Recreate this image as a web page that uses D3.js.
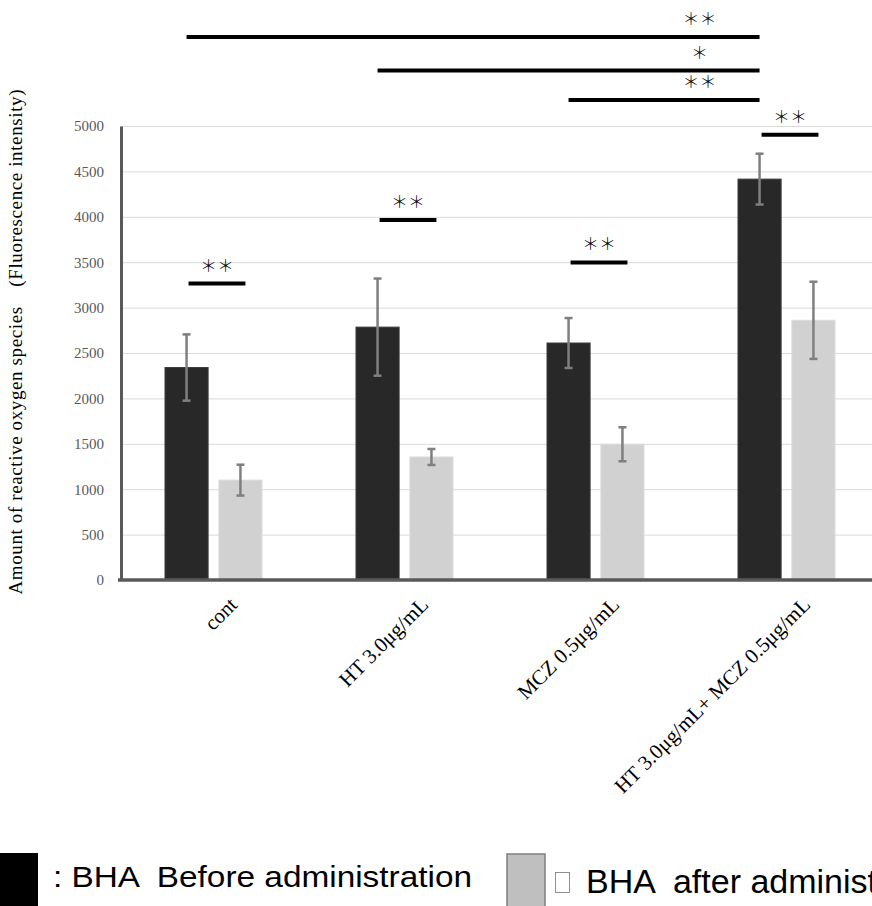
<!DOCTYPE html>
<meta charset="utf-8">
<html>
<head>
<script src="https://cdn.jsdelivr.net/npm/d3@7"></script>
<style>
  body { margin: 0; background: #fff; }
  svg { display: block; }
</style>
</head>
<body>
<div id="chart"></div>
<script>
// data
var categories = ["cont", "HT 3.0\u03bcg/mL", "MCZ 0.5\u03bcg/mL", "HT 3.0\u03bcg/mL+ MCZ 0.5\u03bcg/mL"];
var series = ["before", "after"];
var beforeValues = [2340, 2785, 2610, 4415];
var beforeErrors = [365, 535, 275, 280];
var afterValues = [1100, 1355, 1495, 2860];
var afterErrors = [170, 88, 187, 425];
var yTicks = [0, 500, 1000, 1500, 2000, 2500, 3000, 3500, 4000, 4500, 5000];

// pairwise marks: [fromCategory, toCategory, level, label]
var groupSig = [
  [0, 3, 5980, "\uff0a\uff0a"],
  [1, 3, 5610, "\uff0a"],
  [2, 3, 5285, "\uff0a\uff0a"]
];
// before vs after inside a category: [category, level, label]
var pairSig = [
  [0, 3265, "\uff0a\uff0a"],
  [1, 3965, "\uff0a\uff0a"],
  [2, 3497, "\uff0a\uff0a"],
  [3, 4905, "\uff0a\uff0a"]
];

var width = 872, height = 906;
var serif = "'Liberation Serif', 'Times New Roman', serif";

var svg = d3.select("#chart").append("svg")
    .attr("width", width)
    .attr("height", height);

var x = d3.scaleBand()
    .domain(categories)
    .range([118, 882])
    .padding(0);

var xSub = d3.scaleBand()
    .domain(series)
    .range([0, 97])
    .paddingInner(0.2);

var y = d3.scaleLinear()
    .domain([0, 5000])
    .range([580, 126]);

function barX(i, s) {
    return x(categories[i]) + (x.bandwidth() - 97) / 2 + xSub(s);
}
function barCenter(i, s) {
    return barX(i, s) + xSub.bandwidth() / 2;
}

// grid lines
var grid = svg.append("g")
    .attr("transform", "translate(121,0)")
    .call(d3.axisLeft(y).tickValues(yTicks.slice(1)).tickSize(-(width - 121)).tickFormat(""));
grid.select(".domain").remove();
grid.selectAll("line").attr("stroke", "#d9d9d9").attr("stroke-width", 1);

// bars
var flat = [];
categories.forEach(function(c, i) {
    flat.push({i: i, s: "before", v: beforeValues[i], e: beforeErrors[i]});
    flat.push({i: i, s: "after", v: afterValues[i], e: afterErrors[i]});
});

svg.append("g").selectAll("rect")
    .data(flat).enter()
    .append("rect")
    .attr("x", function(d) { return barX(d.i, d.s); })
    .attr("y", function(d) { return y(d.v); })
    .attr("width", xSub.bandwidth())
    .attr("height", function(d) { return y(0) - y(d.v); })
    .attr("fill", function(d) { return d.s == "before" ? "#282828" : "#d0d1d0"; })
    .attr("stroke", function(d) { return d.s == "before" ? "#3a3a3a" : "#dcdcdc"; })
    .attr("stroke-width", 1);

// error bars
var err = svg.append("g").selectAll("g")
    .data(flat).enter()
    .append("g")
    .attr("stroke", "#7f7f7f")
    .attr("stroke-width", 2.5);
err.append("line")
    .attr("x1", function(d) { return barCenter(d.i, d.s); })
    .attr("x2", function(d) { return barCenter(d.i, d.s); })
    .attr("y1", function(d) { return y(d.v + d.e); })
    .attr("y2", function(d) { return y(d.v - d.e); });
err.selectAll(".cap")
    .data(function(d) { return [[d, d.v + d.e], [d, d.v - d.e]]; }).enter()
    .append("line")
    .attr("x1", function(p) { return barCenter(p[0].i, p[0].s) - 4; })
    .attr("x2", function(p) { return barCenter(p[0].i, p[0].s) + 4; })
    .attr("y1", function(p) { return y(p[1]); })
    .attr("y2", function(p) { return y(p[1]); });

// y axis
var yAxis = svg.append("g")
    .attr("transform", "translate(121,0)")
    .call(d3.axisLeft(y).tickValues(yTicks).tickFormat(d3.format("d"))
        .tickSize(0).tickSizeOuter(0).tickPadding(17));
yAxis.select(".domain").attr("stroke", "#595959").attr("stroke-width", 3);
yAxis.selectAll("text")
    .attr("font-family", serif)
    .attr("font-size", "15px")
    .attr("fill", "#595959");

// x axis
var xAxis = svg.append("g")
    .attr("transform", "translate(0,580)")
    .call(d3.axisBottom(x).tickSize(0).tickSizeOuter(0));
xAxis.select(".domain").attr("stroke", "#595959").attr("stroke-width", 3.5)
    .attr("d", "M118,0H" + width);
xAxis.selectAll("text")
    .attr("x", 0).attr("y", 0).attr("dy", 0)
    .attr("text-anchor", "end")
    .attr("transform", "translate(25,26) rotate(-45)")
    .attr("font-family", serif)
    .attr("font-size", "21px")
    .attr("fill", "#000");

// y axis title
svg.append("text")
    .attr("transform", "translate(22,342) rotate(-90)")
    .attr("text-anchor", "middle")
    .attr("font-family", serif)
    .attr("font-size", "19px")
    .attr("fill", "#000")
    .attr("textLength", 505)
    .attr("lengthAdjust", "spacing")
    .text("Amount of reactive oxygen species\u3000(Fluorescence intensity)");

// significance marks
var sig = svg.append("g");
function stars(xc, yc, label) {
    sig.append("text")
        .attr("x", xc)
        .attr("y", yc - 12)
        .attr("text-anchor", "middle")
        .attr("font-family", "'Noto Sans CJK JP', sans-serif")
        .attr("font-weight", 300)
        .attr("font-size", "17px")
        .attr("fill", "#000")
        .text(label);
}
groupSig.forEach(function(g) {
    var x1 = barCenter(g[0], "before"), x2 = barCenter(g[1], "before");
    sig.append("line")
        .attr("x1", x1).attr("x2", x2)
        .attr("y1", y(g[2])).attr("y2", y(g[2]))
        .attr("stroke", "#000").attr("stroke-width", 4);
    stars(x2 - 60, y(g[2]), g[3]);
});
pairSig.forEach(function(p) {
    var x1 = barCenter(p[0], "before") + 2, x2 = barCenter(p[0], "after") + 5;
    sig.append("line")
        .attr("x1", x1).attr("x2", x2)
        .attr("y1", y(p[1])).attr("y2", y(p[1]))
        .attr("stroke", "#000").attr("stroke-width", 4);
    stars((x1 + x2) / 2, y(p[1]), p[2]);
});

// legend
var legend = svg.append("g");
legend.append("rect")
    .attr("x", 0).attr("y", 853)
    .attr("width", 38).attr("height", 60)
    .attr("fill", "#000");
legend.append("text")
    .attr("x", 53).attr("y", 887)
    .attr("font-family", "'Liberation Sans', Arial, sans-serif")
    .attr("font-size", "29px")
    .attr("fill", "#000")
    .attr("textLength", 419)
    .attr("lengthAdjust", "spacingAndGlyphs")
    .style("white-space", "pre")
    .text(": BHA  Before administration");
legend.append("rect")
    .attr("x", 507).attr("y", 854)
    .attr("width", 38).attr("height", 60)
    .attr("fill", "#bfbfbf")
    .attr("stroke", "#7f7f7f")
    .attr("stroke-width", 1.5);
legend.append("rect")
    .attr("x", 555.5).attr("y", 872.5)
    .attr("width", 14).attr("height", 20)
    .attr("fill", "none")
    .attr("stroke", "#777")
    .attr("stroke-width", 0.8);
legend.append("text")
    .attr("x", 586).attr("y", 893)
    .attr("font-family", "'Liberation Sans', Arial, sans-serif")
    .attr("font-size", "34px")
    .attr("fill", "#000")
    .style("white-space", "pre")
    .text("BHA  after administration");
</script>
</body>
</html>
